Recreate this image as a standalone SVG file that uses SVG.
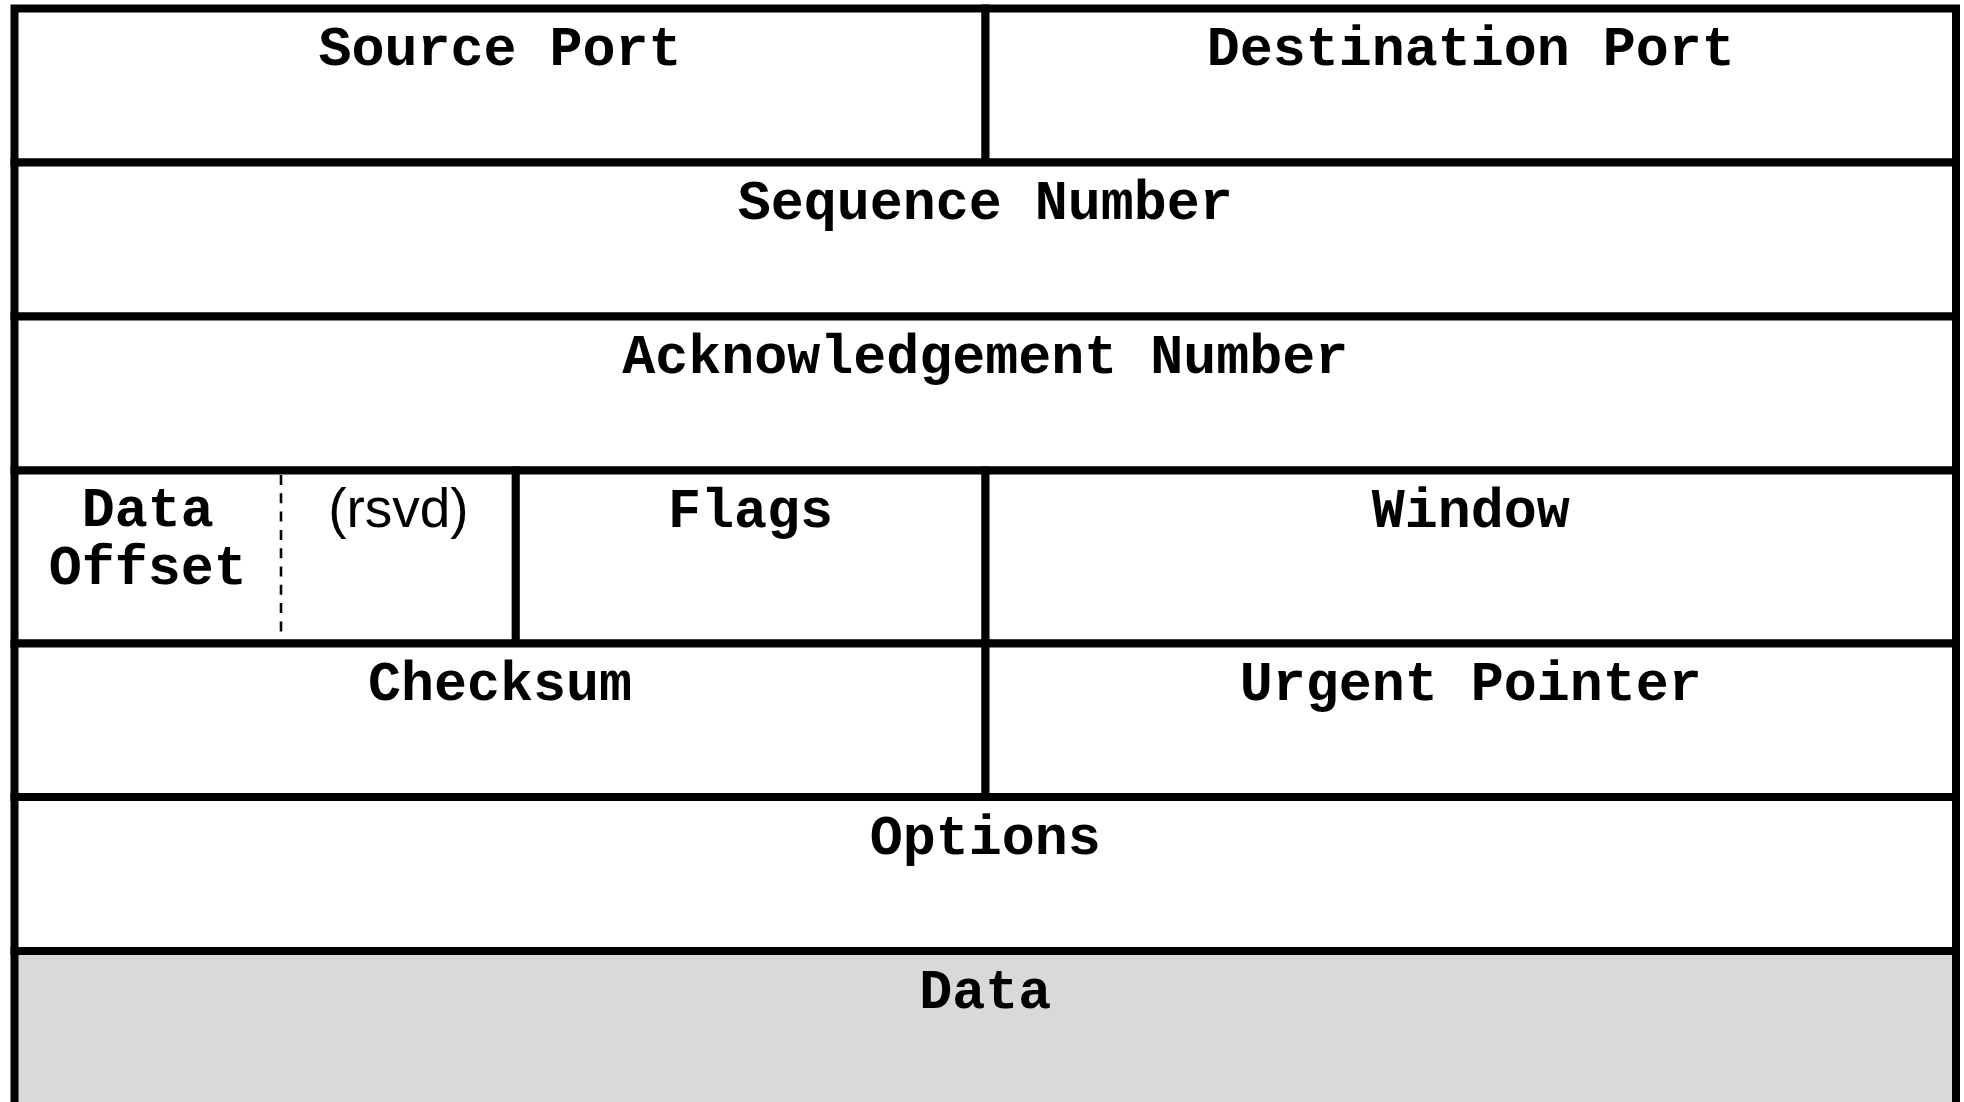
<svg xmlns="http://www.w3.org/2000/svg" width="1964" height="1102" viewBox="0 0 1964 1102">
<style>
.cell{fill:#ffffff;stroke:#000000;stroke-width:8}
.data{fill:#d9d9d9;stroke:#000000;stroke-width:8}
.lbl{font-family:"Liberation Mono","Courier New",monospace;font-weight:bold;font-size:55px;text-anchor:middle;fill:#000000}
.plain{font-family:"Liberation Sans",Arial,sans-serif;font-size:55px;text-anchor:middle;fill:#000000}
.dash{stroke:#000000;stroke-width:2.6;stroke-dasharray:10 8.3;fill:none}
</style>
<rect width="1964" height="1102" fill="#ffffff"/>
<g id="source-port"><rect class="cell" x="14.5" y="8.5" width="971" height="154"/><text class="lbl" x="500" y="65">Source Port</text></g>
<g id="destination-port"><rect class="cell" x="985.5" y="8.5" width="970.5" height="154"/><text class="lbl" x="1470.7" y="65">Destination Port</text></g>
<g id="sequence-number"><rect class="cell" x="14.5" y="162.5" width="1941.5" height="154"/><text class="lbl" x="985.3" y="219">Sequence Number</text></g>
<g id="ack-number"><rect class="cell" x="14.5" y="316.5" width="1941.5" height="154"/><text class="lbl" x="985.3" y="373">Acknowledgement Number</text></g>
<g id="data-offset-rsvd"><rect class="cell" x="14.5" y="470.5" width="501.3" height="173"/></g>
<g id="data-offset"><text class="lbl" x="147.7" y="526">Data</text><text class="lbl" x="147.7" y="584">Offset</text></g>
<g id="rsvd"><text class="plain" x="398.4" y="527">(rsvd)</text></g>
<g id="flags"><rect class="cell" x="515.8" y="470.5" width="469.7" height="173"/><text class="lbl" x="750.6" y="527">Flags</text></g>
<g id="window"><rect class="cell" x="985.5" y="470.5" width="970.5" height="173"/><text class="lbl" x="1470.7" y="527">Window</text></g>
<g id="checksum"><rect class="cell" x="14.5" y="643.5" width="971" height="153.5"/><text class="lbl" x="500" y="700">Checksum</text></g>
<g id="urgent-pointer"><rect class="cell" x="985.5" y="643.5" width="970.5" height="153.5"/><text class="lbl" x="1470.7" y="700">Urgent Pointer</text></g>
<g id="options"><rect class="cell" x="14.5" y="797" width="1941.5" height="154"/><text class="lbl" x="985.3" y="854">Options</text></g>
<g id="data"><rect class="data" x="14.5" y="951" width="1941.5" height="170"/><text class="lbl" x="985.3" y="1008">Data</text></g>
<g id="connectors"><line class="dash" x1="281" y1="475" x2="281" y2="639"/></g>
</svg>
